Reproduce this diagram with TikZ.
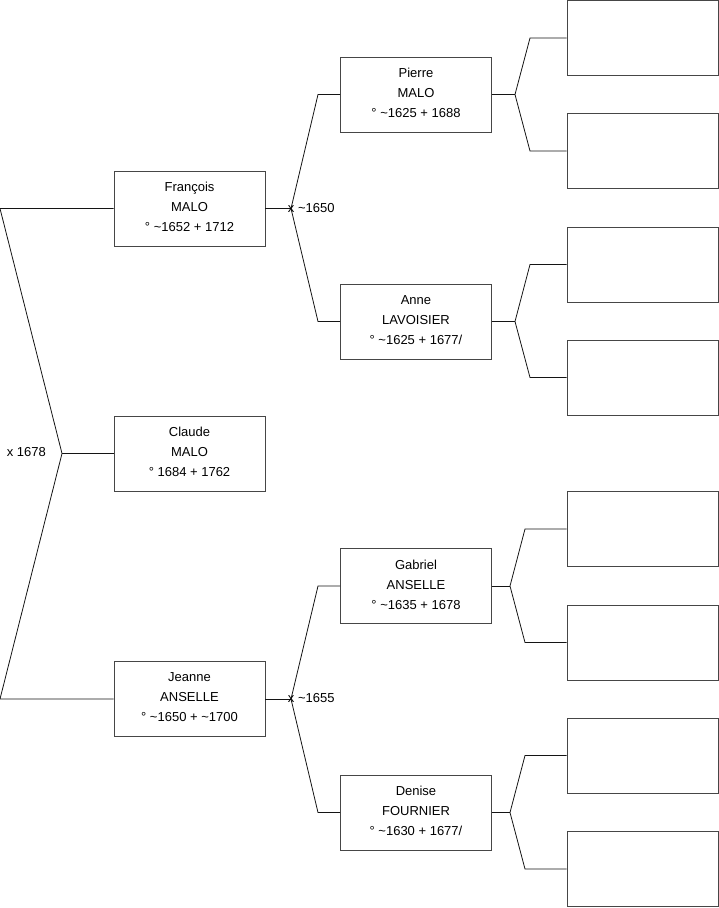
\documentclass[tikz,border=0pt]{standalone}
\usepackage{fontspec}
\setmainfont{Liberation Sans}
\usepackage{xcolor}
\usetikzlibrary{positioning}
\definecolor{boxline}{RGB}{70, 70, 70}
\definecolor{linkline}{RGB}{20, 20, 20}

\begin{document}
\begin{tikzpicture}[x=1pt, y=-1pt]
    \tikzstyle{person} = [rectangle, draw=boxline, line width=0.9pt, minimum width=151pt,
                          minimum height=75pt, inner sep=0pt, align=center, text depth=3pt,
                          font=\fontsize{13}{20}\selectfont]
    \tikzstyle{link}   = [draw=linkline, line width=0.8pt]
    \tikzstyle{wed}    = [inner sep=0pt, font=\fontsize{13}{15}\selectfont]

    \useasboundingbox (0,0) rectangle (719,908);

    % generation 1
    \node[person] (fran)  at (189.5,208.5) {François\\MALO\\° \textasciitilde1652 + 1712};
    \node[person] (claud) at (189.5,453.5) {Claude\\MALO\\° 1684 + 1762};
    \node[person] (jean)  at (189.5,699)   {Jeanne\\ANSELLE\\° \textasciitilde1650 + \textasciitilde1700};

    % generation 2
    \node[person] (pier) at (416,94.5)  {Pierre\\MALO\\° \textasciitilde1625 + 1688};
    \node[person] (anne) at (416,321.5) {Anne\\LAVOISIER\\° \textasciitilde1625 + 1677/};
    \node[person] (gabr) at (416,586)   {Gabriel\\ANSELLE\\° \textasciitilde1635 + 1678};
    \node[person] (deni) at (416,812.5) {Denise\\FOURNIER\\° \textasciitilde1630 + 1677/};

    % generation 3 (empty)
    \node[person] (pierA) at (642.5,38)    {};
    \node[person] (pierB) at (642.5,151)   {};
    \node[person] (anneA) at (642.5,264.5) {};
    \node[person] (anneB) at (642.5,377.5) {};
    \node[person] (gabrA) at (642.5,529)   {};
    \node[person] (gabrB) at (642.5,642.5) {};
    \node[person] (deniA) at (642.5,755.5) {};
    \node[person] (deniB) at (642.5,869)   {};

    % fork points
    \coordinate (topC) at (0,208.5);
    \coordinate (midC) at (62,453.5);
    \coordinate (botC) at (0,699);

    \coordinate (franV) at (291,208.5);
    \coordinate (franU) at (318,94.5);
    \coordinate (franD) at (318,321.5);
    \coordinate (jeanV) at (291,699);
    \coordinate (jeanU) at (318,586);
    \coordinate (jeanD) at (318,812.5);

    \coordinate (pierV) at (515,94.5);
    \coordinate (pierU) at (530,38);
    \coordinate (pierD) at (530,151);
    \coordinate (anneV) at (515,321.5);
    \coordinate (anneU) at (530,264.5);
    \coordinate (anneD) at (530,377.5);
    \coordinate (gabrV) at (510,586);
    \coordinate (gabrU) at (525,529);
    \coordinate (gabrD) at (525,642.5);
    \coordinate (deniV) at (510,812.5);
    \coordinate (deniU) at (525,755.5);
    \coordinate (deniD) at (525,869);

    % parents of Claude
    \draw[link] (fran.west) -- (topC) -- (midC) -- (botC) -- (jean.west);
    \draw[link] (midC) -- (claud.west);
    \node[wed, anchor=east] (wedA) at (46,452) {x 1678};

    % parents of François and Jeanne
    \draw[link] (fran.east) -- (franV);
    \draw[link] (pier.west) -- (franU) -- (franV) -- (franD) -- (anne.west);
    \node[wed, anchor=west] (wedB) at (287.7,208) {x \textasciitilde1650};

    \draw[link] (jean.east) -- (jeanV);
    \draw[link] (gabr.west) -- (jeanU) -- (jeanV) -- (jeanD) -- (deni.west);
    \node[wed, anchor=west] (wedC) at (287.7,698.5) {x \textasciitilde1655};

    % generation 3 links
    \draw[link] (pier.east) -- (pierV);
    \draw[link] (pierA.west) -- (pierU) -- (pierV) -- (pierD) -- (pierB.west);
    \draw[link] (anne.east) -- (anneV);
    \draw[link] (anneA.west) -- (anneU) -- (anneV) -- (anneD) -- (anneB.west);
    \draw[link] (gabr.east) -- (gabrV);
    \draw[link] (gabrA.west) -- (gabrU) -- (gabrV) -- (gabrD) -- (gabrB.west);
    \draw[link] (deni.east) -- (deniV);
    \draw[link] (deniA.west) -- (deniU) -- (deniV) -- (deniD) -- (deniB.west);
\end{tikzpicture}
\end{document}
